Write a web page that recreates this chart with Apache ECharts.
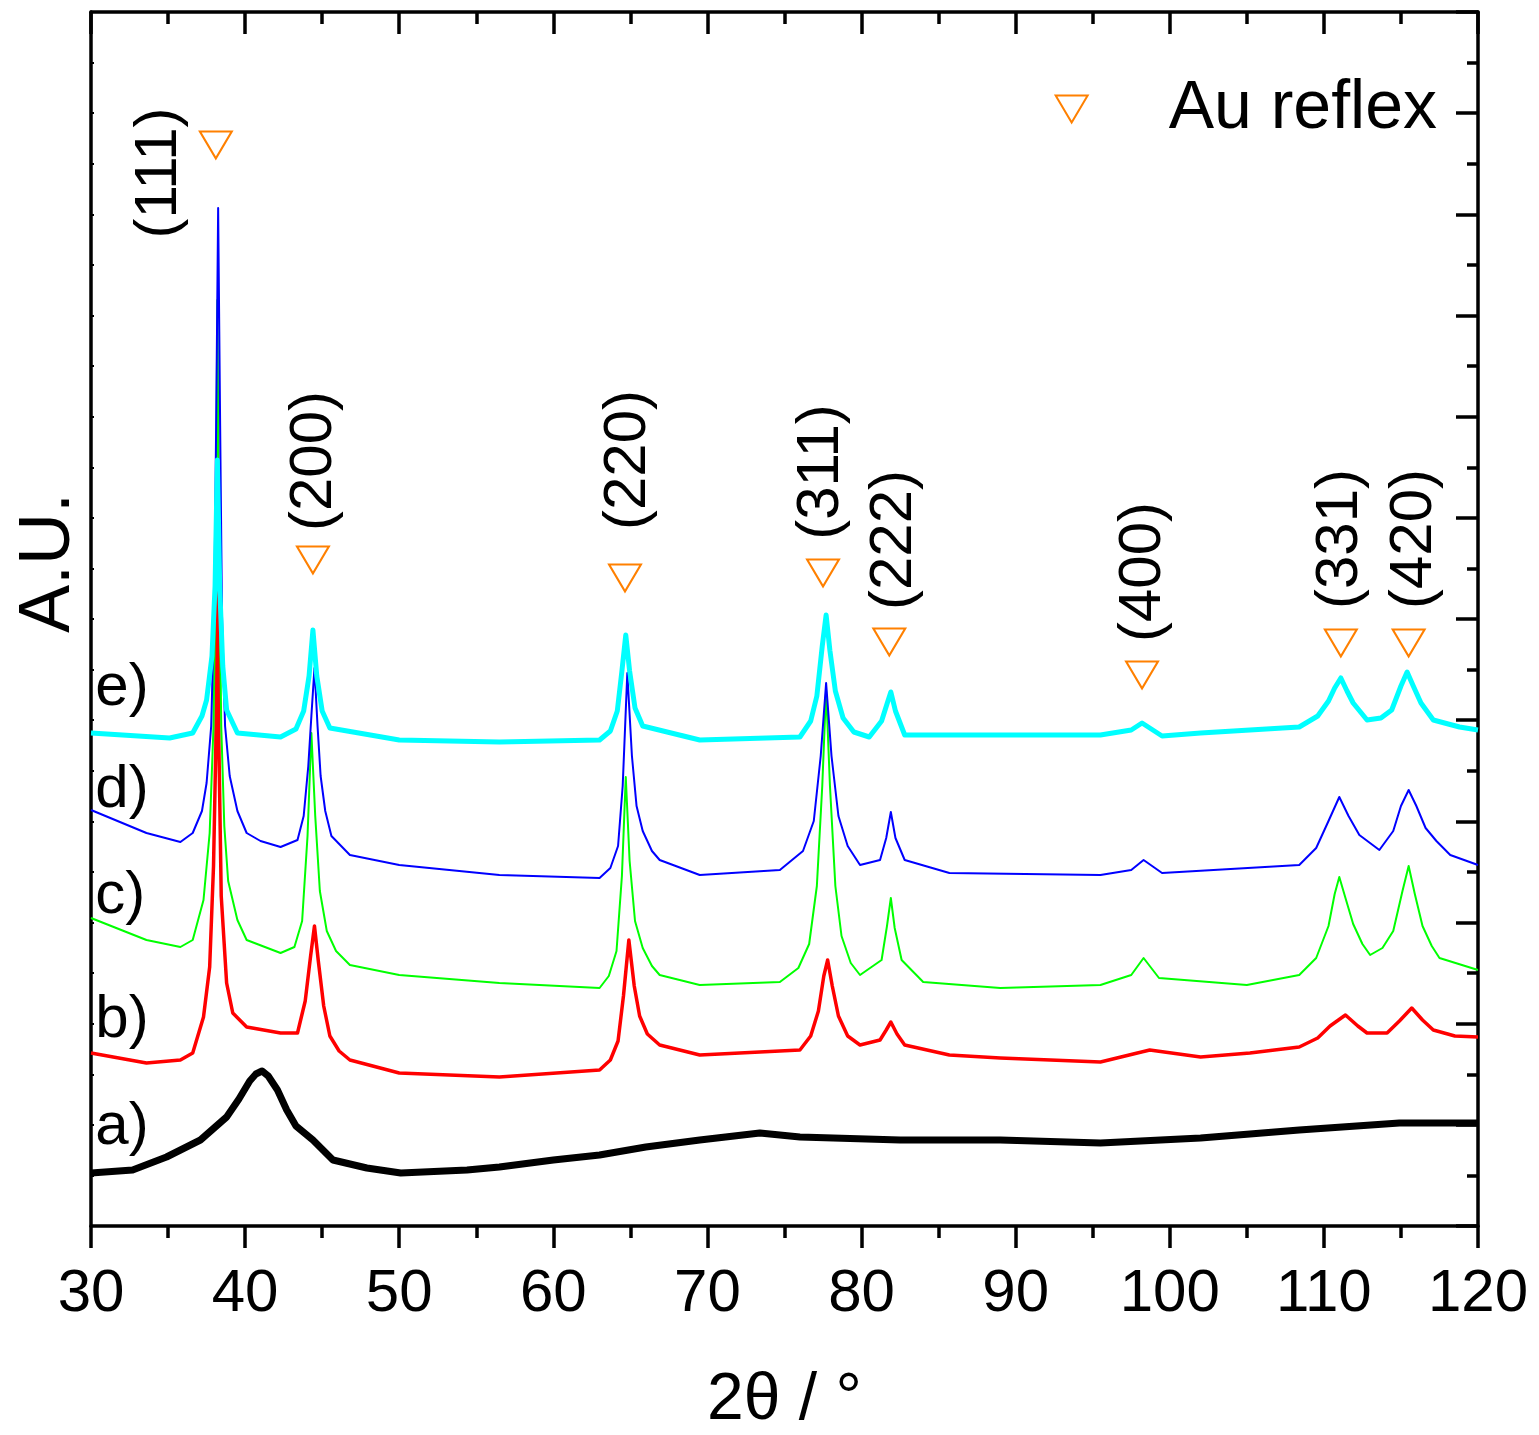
<!DOCTYPE html>
<html>
<head>
<meta charset="utf-8">
<title>XRD patterns</title>
<script src="https://cdn.jsdelivr.net/npm/echarts@6/dist/echarts.min.js"></script>
<style>
  html, body { margin: 0; padding: 0; background: #fff; }
  #chart { width: 1539px; height: 1435px; }
</style>
</head>
<body>
<div id="chart"></div>
<script>
// Diffraction traces: [2θ in degrees, intensity in arbitrary units, offset per sample]
const traceA = [
  [30, 53], [32.7, 56], [34.9, 69], [37.1, 86], [38.8, 109], [39.6, 127], [40.3, 145],
  [40.7, 152], [41.1, 155], [41.5, 150], [42.1, 136], [42.7, 116], [43.3, 100], [44.4, 86],
  [45.7, 66], [47.9, 58], [50.1, 53], [54.4, 56], [56.5, 59], [60, 66], [63, 71], [66, 79],
  [69.5, 86], [73.4, 93], [76, 89], [82.5, 86], [89, 86], [95.5, 83], [102, 88], [108.4, 96],
  [114.9, 103], [120, 103]
];
const traceB = [
  [30, 173], [33.6, 163], [35.8, 166], [36.6, 173], [37.3, 209], [37.7, 259], [37.95, 360],
  [38.1, 480], [38.2, 666], [38.3, 480], [38.45, 330], [38.8, 243], [39.2, 213], [40.1, 199],
  [42.3, 193], [43.4, 193], [43.9, 225], [44.25, 270], [44.5, 300], [44.75, 265], [45.1, 220],
  [45.5, 190], [46.1, 175], [46.8, 166], [50, 153], [56.5, 149], [63, 156], [63.7, 166],
  [64.2, 185], [64.55, 230], [64.9, 286], [65.25, 240], [65.6, 210], [66.1, 192], [66.9, 181],
  [69.5, 171], [76, 176], [76.7, 190], [77.2, 215], [77.55, 250], [77.8, 266], [78.1, 240],
  [78.5, 210], [79.1, 190], [79.9, 181], [81.2, 186], [81.6, 196], [81.9, 204], [82.3, 192],
  [82.8, 181], [85.7, 171], [89, 168], [95.5, 164], [98.7, 176], [102, 169], [105.2, 173],
  [108.4, 179], [109.6, 188], [110.4, 200], [111.4, 211], [112.2, 200], [112.8, 193],
  [114.1, 193], [114.9, 205], [115.7, 218], [116.4, 206], [117.1, 196], [118.5, 190], [120, 189]
];
const traceC = [
  [30, 308], [33.6, 286], [35.8, 279], [36.6, 286], [37.3, 326], [37.7, 393], [37.95, 500],
  [38.1, 680], [38.2, 926], [38.3, 700], [38.45, 500], [38.65, 400], [38.9, 345], [39.5, 306],
  [40.1, 286], [42.3, 273], [43.2, 279], [43.7, 305], [44.05, 390], [44.3, 493], [44.55, 410],
  [44.85, 335], [45.3, 295], [45.9, 275], [46.8, 261], [50, 251], [56.5, 243], [63, 238],
  [63.6, 250], [64.1, 275], [64.45, 350], [64.7, 449], [64.95, 365], [65.3, 305], [65.8, 278],
  [66.4, 260], [66.9, 251], [69.5, 241], [74.7, 244], [75.9, 258], [76.6, 282], [77.1, 340],
  [77.45, 440], [77.7, 536], [77.95, 440], [78.3, 340], [78.7, 290], [79.3, 263], [79.9, 251],
  [81.3, 266], [81.65, 300], [81.9, 328], [82.15, 298], [82.6, 266], [84, 244], [89, 238],
  [95.5, 241], [97.5, 251], [98.3, 268], [99.3, 248], [105, 241], [108.4, 251], [109.5, 268],
  [110.3, 300], [110.7, 332], [111.0, 349], [111.4, 328], [111.9, 302], [112.5, 282],
  [113, 271], [113.8, 278], [114.5, 295], [115.1, 335], [115.5, 360], [115.9, 332],
  [116.4, 300], [117.0, 280], [117.5, 268], [120, 256]
];
const traceD = [
  [30, 416], [33.6, 393], [35.8, 384], [36.6, 393], [37.2, 415], [37.5, 443], [37.8, 500],
  [38.0, 620], [38.12, 800], [38.25, 1018], [38.38, 800], [38.5, 610], [38.7, 500], [39.0, 450],
  [39.5, 415], [40.1, 393], [41, 385], [42.3, 379], [43.4, 386], [43.8, 410], [44.1, 460],
  [44.3, 510], [44.5, 558], [44.7, 500], [44.9, 450], [45.2, 415], [45.6, 390], [46.8, 371],
  [50, 361], [56.5, 351], [63, 348], [63.7, 358], [64.2, 380], [64.5, 440], [64.8, 553],
  [65.1, 470], [65.4, 420], [65.8, 395], [66.4, 375], [66.9, 366], [69.5, 351], [74.7, 356],
  [76.2, 375], [76.9, 405], [77.35, 470], [77.7, 543], [78.05, 470], [78.5, 410], [79.1, 380],
  [79.9, 361], [81.2, 366], [81.6, 388], [81.9, 414], [82.2, 388], [82.8, 366], [85.7, 353],
  [95.5, 351], [97.5, 356], [98.3, 366], [99.5, 353], [108.4, 361], [109.5, 378], [110.3, 405],
  [111.0, 429], [111.6, 410], [112.3, 391], [113.6, 376], [114.5, 395], [115.0, 420],
  [115.5, 436], [116.0, 420], [116.6, 398], [117.3, 385], [118.2, 371], [120, 361]
];
const traceE = [
  [30, 493], [35.1, 488], [36.6, 493], [37.2, 510], [37.5, 526], [37.85, 570], [38.05, 640],
  [38.2, 766], [38.35, 640], [38.55, 560], [38.8, 516], [39.5, 493], [42.3, 489], [43.3, 497],
  [43.8, 515], [44.15, 550], [44.4, 596], [44.65, 550], [45.0, 515], [45.5, 498], [50, 486],
  [56.5, 484], [63, 486], [63.7, 495], [64.15, 515], [64.45, 555], [64.7, 591], [64.95, 555],
  [65.3, 518], [65.8, 500], [69.5, 486], [76, 489], [76.7, 505], [77.1, 530], [77.45, 580],
  [77.7, 611], [77.95, 575], [78.3, 535], [78.8, 508], [79.5, 494], [80.5, 489], [81.3, 505],
  [81.65, 522], [81.9, 534], [82.2, 515], [82.8, 491], [95.5, 491], [97.5, 496], [98.2, 503],
  [98.9, 496], [99.5, 490], [102, 493], [108.4, 499], [109.6, 510], [110.3, 525], [110.7, 538],
  [111.1, 548], [111.5, 535], [111.9, 523], [112.8, 506], [113.7, 508], [114.4, 516],
  [115.0, 540], [115.4, 554], [115.8, 540], [116.3, 523], [117.1, 506], [118.8, 499], [120, 496]
];

// Gold reflections: marker positions and Miller-index labels
const auTheta = [38.1, 44.4, 64.65, 77.5, 81.8, 98.2, 111.1, 115.5];
const auMarkY = [1081, 666, 648, 653, 584, 551, 583, 583];
const hklText = ['(111)', '(200)', '(220)', '(311)', '(222)', '(400)', '(331)', '(420)'];
const hklTheta = [34.41, 44.53, 64.85, 77.43, 82.11, 98.26, 111.05, 115.85];
const hklLabelY = [1053, 765, 766, 754, 686, 654, 687, 687];

// Sample tags drawn at the left edge of each trace
const sampleNames = ['a)', 'b)', 'c)', 'd)', 'e)'];
const sampleLabelY = [99, 206, 330, 436, 538];
const sampleLabelTheta = 30.25;

const seriesColors = ['#000000', '#ff0000', '#00ff00', '#0000ff', '#00ffff'];
const seriesWidths = [7, 3.5, 2, 2, 5];
const traces = [traceA, traceB, traceC, traceD, traceE];

const FONT = '"Liberation Sans", Arial, Helvetica, sans-serif';
const ORANGE = '#ff8000';
const DOWN_TRIANGLE = 'path://M0,0L32,0L16,27Z';

const Y_MAX = 1214;
const Y_STEP = Y_MAX / 12;

const chart = echarts.init(document.getElementById('chart'), null, { renderer: 'canvas' });

const lineSeries = traces.map((t, i) => ({
  name: sampleNames[i],
  type: 'line',
  data: t,
  showSymbol: false,
  symbol: 'none',
  silent: true,
  lineStyle: { color: seriesColors[i], width: seriesWidths[i], join: 'round' },
  z: 2 + i
}));

const option = {
  animation: false,
  backgroundColor: '#ffffff',
  textStyle: { fontFamily: FONT },
  grid: { left: 91, right: 61, top: 12, bottom: 209, containLabel: false, outerBoundsMode: 'none' },
  legend: {
    data: ['Au reflex'],
    right: 97,
    top: 70,
    itemWidth: 32,
    itemHeight: 27,
    icon: DOWN_TRIANGLE,
    itemStyle: { color: 'rgba(255,255,255,0)', borderColor: ORANGE, borderWidth: 2, opacity: 1 },
    textStyle: { fontSize: 68, color: '#000', fontFamily: FONT, padding: [0, 0, 0, 76] }
  },
  xAxis: [
    {
      type: 'value', position: 'bottom', min: 30, max: 120, interval: 10,
      name: '2θ / °', nameLocation: 'middle', nameGap: 142,
      nameTextStyle: { fontSize: 66, color: '#000', fontFamily: FONT },
      axisLine: { show: true, onZero: false, lineStyle: { color: '#000', width: 3.5 } },
      axisTick: { show: true, inside: false, length: 22, lineStyle: { color: '#000', width: 3.5 } },
      minorTick: { show: true, splitNumber: 2, length: 12, lineStyle: { color: '#000', width: 3.5 } },
      axisLabel: { show: true, fontSize: 60, color: '#000', margin: 38, fontFamily: FONT },
      splitLine: { show: false }
    },
    {
      type: 'value', position: 'top', min: 30, max: 120, interval: 10,
      axisLine: { show: true, onZero: false, lineStyle: { color: '#000', width: 3.5 } },
      axisTick: { show: true, inside: true, length: 22, lineStyle: { color: '#000', width: 3.5 } },
      minorTick: { show: true, splitNumber: 2, length: 12, lineStyle: { color: '#000', width: 3.5 } },
      axisLabel: { show: false },
      splitLine: { show: false }
    }
  ],
  yAxis: [
    {
      type: 'value', position: 'left', min: 0, max: Y_MAX, interval: Y_STEP,
      name: 'A.U.', nameLocation: 'middle', nameGap: 6, nameRotate: 90,
      nameTextStyle: { fontSize: 72, color: '#000', fontFamily: FONT, padding: [0, 0, 0, 112] },
      axisLine: { show: true, onZero: false, lineStyle: { color: '#000', width: 3.5 } },
      axisTick: { show: true, inside: true, length: 3, lineStyle: { color: '#000', width: 2 } },
      minorTick: { show: true, splitNumber: 2, length: 3, lineStyle: { color: '#000', width: 2 } },
      axisLabel: { show: false },
      splitLine: { show: false }
    },
    {
      type: 'value', position: 'right', min: 0, max: Y_MAX, interval: Y_STEP,
      axisLine: { show: true, onZero: false, lineStyle: { color: '#000', width: 3.5 } },
      axisTick: { show: true, inside: true, length: 22, lineStyle: { color: '#000', width: 3.5 } },
      minorTick: { show: true, splitNumber: 2, length: 11, lineStyle: { color: '#000', width: 3.5 } },
      axisLabel: { show: false },
      splitLine: { show: false }
    }
  ],
  series: [
    ...lineSeries,
    {
      name: 'Au reflex',
      type: 'scatter',
      silent: true,
      symbol: DOWN_TRIANGLE,
      symbolSize: [32, 27],
      itemStyle: { color: 'rgba(255,255,255,0)', borderColor: ORANGE, borderWidth: 2, opacity: 1 },
      data: auTheta.map((x, i) => [x, auMarkY[i]]),
      z: 10
    },
    {
      name: 'hkl',
      type: 'scatter',
      silent: true,
      symbolSize: 1,
      itemStyle: { color: 'rgba(0,0,0,0)', opacity: 1 },
      label: {
        show: true, position: 'inside', rotate: 90,
        fontSize: 60, color: '#000', fontFamily: FONT,
        formatter: p => hklText[p.dataIndex]
      },
      data: hklTheta.map((x, i) => [x, hklLabelY[i]]),
      z: 11
    },
    {
      name: 'samples',
      type: 'scatter',
      silent: true,
      symbolSize: 1,
      itemStyle: { color: 'rgba(0,0,0,0)', opacity: 1 },
      label: {
        show: true, position: 'right', distance: 0,
        fontSize: 60, color: '#000', fontFamily: FONT,
        formatter: p => sampleNames[p.dataIndex]
      },
      data: sampleLabelY.map(y => [sampleLabelTheta, y]),
      z: 11
    }
  ]
};

chart.setOption(option);
</script>
</body>
</html>
